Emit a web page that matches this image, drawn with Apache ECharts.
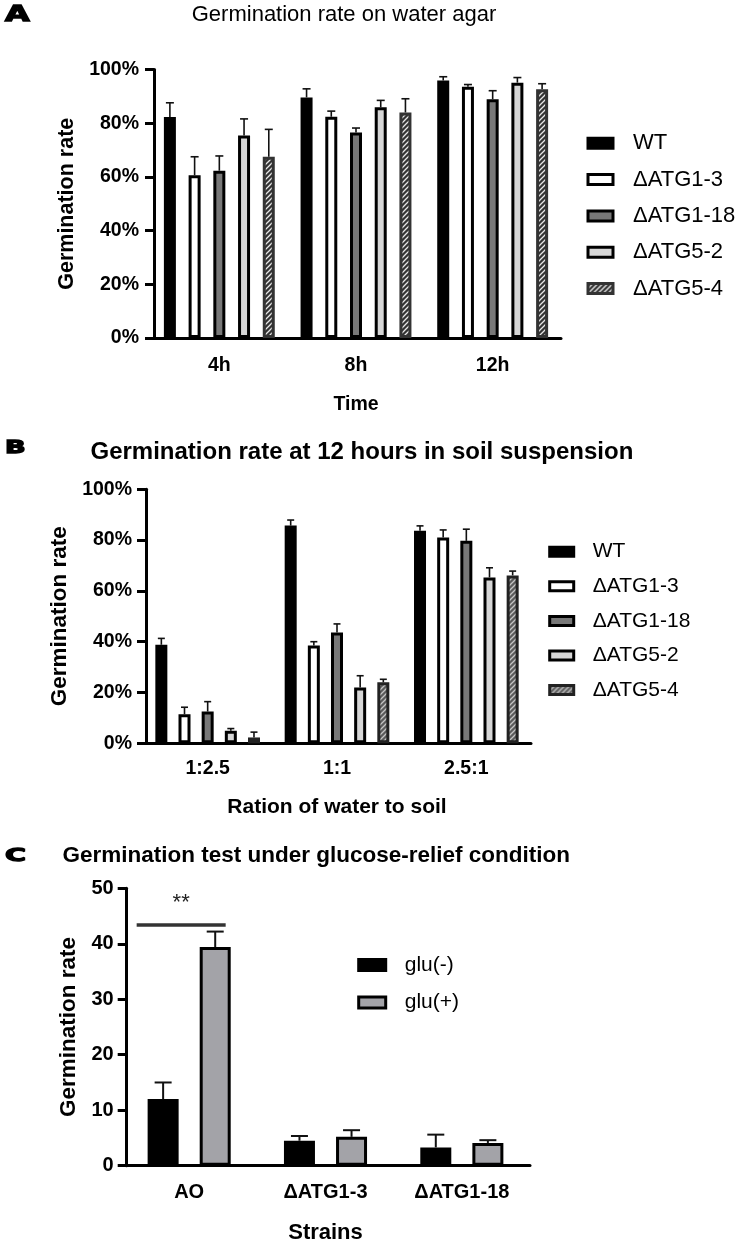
<!DOCTYPE html>
<html><head><meta charset="utf-8">
<script src="https://cdn.jsdelivr.net/npm/echarts@6/dist/echarts.min.js"></script>
<style>html,body{margin:0;padding:0;background:#fff}#c{width:739px;height:1246px}</style>
</head><body><div id="c"></div>
<script>
// ---------- DATA ----------
// Panel A: germination rate on water agar (%), mean and upper SD
const timeCats = ['4h', '8h', '12h'];
const strainNames = ['WT', 'ΔATG1-3', 'ΔATG1-18', 'ΔATG5-2', 'ΔATG5-4'];
const a_WT      = [82.3, 89.6, 95.9];
const a_ATG1_3  = [60.6, 82.4, 93.6];
const a_ATG1_18 = [62.3, 76.5, 88.9];
const a_ATG5_2  = [75.4, 85.9, 95.1];
const a_ATG5_4  = [67.5, 84.0, 92.6];
const a_WT_sd      = [5.3, 3.2, 1.4];
const a_ATG1_3_sd  = [6.9, 2.1, 0.8];
const a_ATG1_18_sd = [5.5, 1.7, 3.2];
const a_ATG5_2_sd  = [6.2, 2.6, 1.9];
const a_ATG5_4_sd  = [10.2, 5.1, 2.1];

// Panel B: germination rate at 12 h in soil suspension (%)
const ratioCats = ['1:2.5', '1:1', '2.5:1'];
const b_WT      = [38.8, 85.7, 83.7];
const b_ATG1_3  = [11.4, 38.5, 81.0];
const b_ATG1_18 = [12.5, 43.6, 79.7];
const b_ATG5_2  = [4.9, 22.0, 65.3];
const b_ATG5_4  = [2.3, 24.0, 66.1];
const b_WT_sd      = [2.5, 2.2, 1.9];
const b_ATG1_3_sd  = [2.8, 1.5, 3.0];
const b_ATG1_18_sd = [3.9, 3.4, 4.6];
const b_ATG5_2_sd  = [0.9, 4.6, 3.8];
const b_ATG5_4_sd  = [2.1, 1.2, 1.7];

// Panel C: glucose-relief germination test
const strainCats = ['AO', 'ΔATG1-3', 'ΔATG1-18'];
const gluNames = ['glu(-)', 'glu(+)'];
const c_gluMinus = [12.0, 4.5, 3.3];
const c_gluPlus  = [39.4, 5.2, 4.1];
const c_gluMinus_sd = [3.0, 0.85, 2.3];
const c_gluPlus_sd  = [2.8, 1.2, 0.5];
const sigCategory = 0;      // AO
const sigLineValue = 43.4;
const sigStarValue = 47.3;
const sigLabel = '**';

// Tick labels / axis ranges
const pctTicks = {min: 0, max: 100, interval: 20};
const cTicks = {min: 0, max: 50, interval: 10};

// ---------- STYLE ----------
const FONT = '"Liberation Sans", Arial, sans-serif';
function hatch(bg, fg) {
  const s = 5, c = document.createElement('canvas');
  c.width = s; c.height = s;
  const g = c.getContext('2d');
  g.fillStyle = bg; g.fillRect(0, 0, s, s);
  g.strokeStyle = fg; g.lineWidth = 1.3; g.beginPath();
  g.moveTo(0, s); g.lineTo(s, 0);
  g.moveTo(-1, 1); g.lineTo(1, -1);
  g.moveTo(s - 1, s + 1); g.lineTo(s + 1, s - 1);
  g.stroke();
  return c;
}
const hatchA = {image: hatch('#333333', '#e6e6e6'), repeat: 'repeat'};
const hatchB = {image: hatch('#5c5c5c', '#c4c4c4'), repeat: 'repeat'};
const fillsA = ['#000', '#fff', '#787878', '#d6d6d6', hatchA];
const bordersA = ['#000', '#000', '#000', '#000', '#333'];
const fillsB = ['#000', '#fff', '#787878', '#d6d6d6', hatchB];
const bordersB = ['#000', '#000', '#000', '#000', '#222'];
const fillsC = ['#000', '#a3a3a8'];

const BW_AB = 12, GAP_A = 1.06, GAP_B = 0.93;
const BW_C = 31, GAP_C = 0.68;

function bars(gi, names, arrays, fills, borders, bw, gap) {
  return arrays.map((arr, i) => ({
    type: 'bar', name: names[i], xAxisIndex: gi, yAxisIndex: gi, data: arr,
    barWidth: bw, barGap: (gap * 100) + '%',
    itemStyle: {color: fills[i], borderColor: borders[i], borderWidth: 3},
    emphasis: {disabled: true}, silent: true
  }));
}
function errs(gi, arrays, sds, pitch, cap, lw) {
  const data = [];
  arrays.forEach((arr, si) => arr.forEach((v, ci) => data.push([ci, v, sds[si][ci], si])));
  const n = arrays.length;
  return {
    type: 'custom', xAxisIndex: gi, yAxisIndex: gi, z: 5, silent: true,
    data: data, encode: {x: 0, y: 1},
    renderItem: function (params, api) {
      const ci = api.value(0), v = api.value(1), sd = api.value(2), si = api.value(3);
      const p0 = api.coord([ci, v]), p1 = api.coord([ci, v + sd]);
      const x = p0[0] + (si - (n - 1) / 2) * pitch;
      const st = {stroke: '#111', lineWidth: lw};
      return {type: 'group', children: [
        {type: 'line', shape: {x1: x, y1: p0[1], x2: x, y2: p1[1]}, style: st},
        {type: 'line', shape: {x1: x - cap / 2, y1: p1[1], x2: x + cap / 2, y2: p1[1]}, style: st}
      ]};
    }
  };
}
function xAx(gi, cats, fs, name, nfs, ngap, margin) {
  return {
    type: 'category', gridIndex: gi, data: cats,
    name: name, nameLocation: 'middle', nameGap: ngap,
    nameTextStyle: {fontSize: nfs, fontWeight: 'bold', fontFamily: FONT, color: '#000'},
    axisLine: {lineStyle: {color: '#000', width: 3}},
    axisTick: {alignWithLabel: true, length: 9, lineStyle: {color: '#000', width: 3}},
    axisLabel: {fontSize: fs, fontWeight: 'bold', fontFamily: FONT, color: '#000', margin: margin},
    splitLine: {show: false}
  };
}
function yAx(gi, t, fmt, fs, name, nfs, ngap, offset, margin) {
  return {
    type: 'value', gridIndex: gi, min: t.min, max: t.max, interval: t.interval, offset: offset,
    name: name, nameLocation: 'middle', nameGap: ngap,
    nameTextStyle: {fontSize: nfs, fontWeight: 'bold', fontFamily: FONT, color: '#000'},
    axisLine: {show: true, lineStyle: {color: '#000', width: 3}},
    axisTick: {show: true, length: 9, lineStyle: {color: '#000', width: 3}},
    axisLabel: {formatter: fmt, fontSize: fs, fontWeight: 'bold', fontFamily: FONT, color: '#000', margin: margin},
    splitLine: {show: false}
  };
}
function legendData(names, fills, borders) {
  return names.map((n, i) => ({name: n, icon: 'rect',
    itemStyle: {color: fills[i], borderColor: borders[i], borderWidth: 3}}));
}
function txt(x, y, text, size, weight, align) {
  return {type: 'text', x: x, y: y, silent: true,
    style: {text: text, fontSize: size, fontWeight: weight, fontFamily: FONT, fill: '#000',
      align: align, verticalAlign: 'middle'}};
}
function letter(x, y, text, size) {
  return {type: 'text', x: x, y: y, scaleX: 1.55, silent: true,
    style: {text: text, fontSize: size, fontWeight: 'bold', fontFamily: '"DejaVu Sans", sans-serif',
      fill: '#000', stroke: '#000', lineWidth: 1.3, align: 'left', verticalAlign: 'middle'}};
}

const aArr = [a_WT, a_ATG1_3, a_ATG1_18, a_ATG5_2, a_ATG5_4];
const aSd = [a_WT_sd, a_ATG1_3_sd, a_ATG1_18_sd, a_ATG5_2_sd, a_ATG5_4_sd];
const bArr = [b_WT, b_ATG1_3, b_ATG1_18, b_ATG5_2, b_ATG5_4];
const bSd = [b_WT_sd, b_ATG1_3_sd, b_ATG1_18_sd, b_ATG5_2_sd, b_ATG5_4_sd];
const cArr = [c_gluMinus, c_gluPlus];
const cSd = [c_gluMinus_sd, c_gluPlus_sd];

const chart = echarts.init(document.getElementById('c'), null, {renderer: 'canvas', width: 739, height: 1246});
const option = {
  animation: false,
  backgroundColor: '#fff',
  grid: [
    {left: 151, top: 69.5, width: 410, height: 268.5, outerBoundsMode: 'none'},
    {left: 143, top: 489.3, width: 388, height: 254, outerBoundsMode: 'none'},
    {left: 121, top: 888.3, width: 409, height: 277.4, outerBoundsMode: 'none'}
  ],
  xAxis: [
    xAx(0, timeCats, 19.5, 'Time', 19.5, 57, 18),
    xAx(1, ratioCats, 19.5, 'Ration of water to soil', 21, 53, 15),
    xAx(2, strainCats, 20, 'Strains', 22, 56, 17)
  ],
  yAxis: [
    yAx(0, pctTicks, '{value}%', 19.5, 'Germination rate', 21.5, 72, -3, 15),
    yAx(1, pctTicks, '{value}%', 19.5, 'Germination rate', 22.5, 68, -3, 14),
    yAx(2, cTicks, '{value}', 20, 'Germination rate', 22.5, 45, -5.7, 13)
  ],
  legend: [
    {orient: 'vertical', left: 581.5, top: 127.3, itemWidth: 25, itemHeight: 10, itemGap: 14.3,
      selectedMode: false,
      textStyle: {fontSize: 22, lineHeight: 22, fontFamily: FONT, color: '#000', padding: [0, 0, 0, 15]},
      data: legendData(strainNames, fillsA, bordersA)},
    {orient: 'vertical', left: 543.2, top: 536.2, itemWidth: 24, itemHeight: 9, itemGap: 13.6,
      selectedMode: false,
      textStyle: {fontSize: 21, lineHeight: 21, fontFamily: FONT, color: '#000', padding: [0, 0, 0, 14]},
      data: legendData(strainNames, fillsB, bordersB)},
    {orient: 'vertical', left: 352.2, top: 949.5, itemWidth: 27, itemHeight: 11, itemGap: 16.5,
      selectedMode: false,
      textStyle: {fontSize: 21, lineHeight: 21, fontFamily: FONT, color: '#000', padding: [0, 0, 0, 14]},
      data: legendData(gluNames, fillsC, ['#000', '#000'])}
  ],
  graphic: [
    letter(5, 15.5, 'A', 20.5),
    txt(344, 15, 'Germination rate on water agar', 22, 'normal', 'center'),
    letter(5, 448, 'B', 17.5),
    txt(90.5, 452.5, 'Germination rate at 12 hours in soil suspension', 24, 'bold', 'left'),
    letter(5, 856.5, 'C', 18.5),
    txt(62.5, 856, 'Germination test under glucose-relief condition', 22.5, 'bold', 'left')
  ],
  series: [].concat(
    bars(0, strainNames, aArr, fillsA, bordersA, BW_AB, GAP_A),
    [errs(0, aArr, aSd, BW_AB * (1 + GAP_A), 8, 1.6)],
    bars(1, strainNames, bArr, fillsB, bordersB, BW_AB, GAP_B),
    [errs(1, bArr, bSd, BW_AB * (1 + GAP_B), 7, 1.6)],
    bars(2, gluNames, cArr, fillsC, ['#000', '#000'], BW_C, GAP_C),
    [errs(2, cArr, cSd, BW_C * (1 + GAP_C), 17, 2)],
    [{
      type: 'custom', xAxisIndex: 2, yAxisIndex: 2, z: 6, silent: true,
      data: [[sigCategory, sigLineValue, sigStarValue]], encode: {x: 0, y: 1},
      renderItem: function (params, api) {
        const p = api.coord([api.value(0), api.value(1)]);
        const s = api.coord([api.value(0), api.value(2)]);
        return {type: 'group', children: [
          {type: 'line', shape: {x1: p[0] - 52.5, y1: p[1], x2: p[0] + 36.5, y2: p[1]},
            style: {stroke: '#333', lineWidth: 3.5}},
          {type: 'text', x: s[0] - 8, y: s[1],
            style: {text: sigLabel, fontSize: 22, fontFamily: FONT, fill: '#222', align: 'center', verticalAlign: 'middle'}}
        ]};
      }
    }]
  )
};
chart.setOption(option);
</script>
</body></html>
